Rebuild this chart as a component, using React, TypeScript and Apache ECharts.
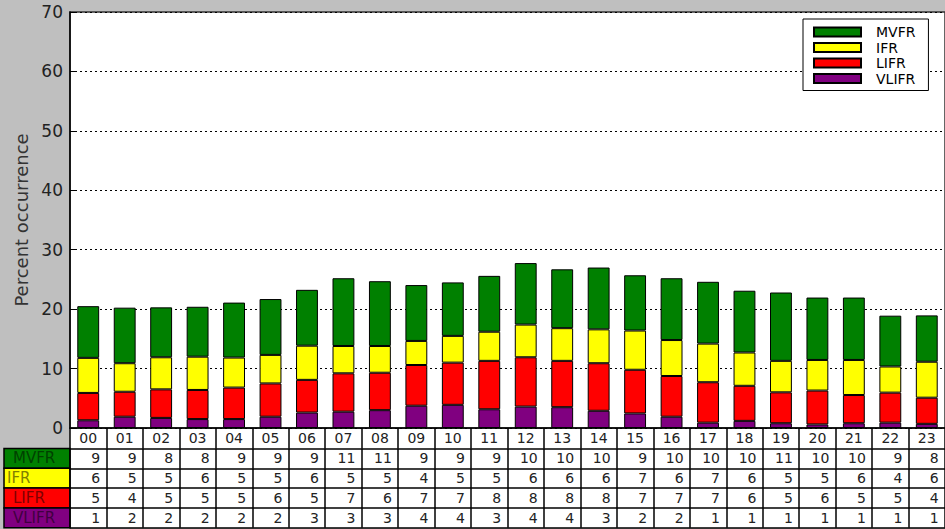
import React, { useEffect, useRef } from "react";
import * as echarts from "echarts";

const hours = ["00","01","02","03","04","05","06","07","08","09","10","11","12","13","14","15","16","17","18","19","20","21","22","23"];
const vlifr = [1.3,1.9,1.7,1.5,1.5,1.9,2.6,2.75,3.0,3.75,3.9,3.15,3.6,3.5,2.9,2.45,1.9,0.9,1.2,0.8,0.6,0.8,0.9,0.7];
const lifr = [4.6,4.2,4.8,4.9,5.3,5.6,5.5,6.45,6.3,6.85,7.1,8.15,8.3,7.8,8.0,7.35,6.85,6.8,5.9,5.2,5.7,4.75,5.05,4.4];
const ifr = [5.9,4.8,5.4,5.6,5.05,4.8,5.75,4.6,4.5,4.05,4.5,4.9,5.5,5.5,5.7,6.6,6.05,6.5,5.6,5.3,5.15,5.9,4.4,6.05];
const mvfr = [8.7,9.35,8.4,8.4,9.25,9.4,9.4,11.4,10.9,9.4,9.0,9.4,10.35,9.9,10.4,9.3,10.4,10.4,10.4,11.5,10.5,10.5,8.55,7.8];

const tableMVFR = [9,9,8,8,9,9,9,11,11,9,9,9,10,10,10,9,10,10,10,11,10,10,9,8];
const tableIFR = [6,5,5,6,5,5,6,5,5,4,5,5,6,6,6,7,6,7,6,5,5,6,4,6];
const tableLIFR = [5,4,5,5,5,6,5,7,6,7,7,8,8,8,8,7,7,7,6,5,6,5,5,4];
const tableVLIFR = [1,2,2,2,2,2,3,3,3,4,4,3,4,4,3,2,2,1,1,1,1,1,1,1];

const rowNames = ["MVFR", "IFR", "LIFR", "VLIFR"];
const rowColors = ["#008000", "#ffff00", "#ff0000", "#800080"];
const rowTextColors = ["#004000", "#808000", "#800000", "#400040"];
const rowLabelX = [13, 7, 13, 13];

export default function App() {
  const ref = useRef<HTMLDivElement>(null);
  useEffect(() => {
    if (!ref.current) return;
    const chart = echarts.init(ref.current, null, { renderer: "svg" });
    const font = "DejaVu Sans";
    const gridLeft = 70, gridTop = 12, gridW = 878, gridH = 416;
    const headerH = 20.5, rowH = 19.8;
    const tableRows = [tableMVFR, tableIFR, tableLIFR, tableVLIFR];
    const lineStyle = { color: "#000", width: 1.5 };

    const xAxes: any[] = [
      {
        type: "category",
        data: hours,
        gridIndex: 0,
        position: "bottom",
        offset: 0,
        axisLine: { show: true, lineStyle },
        axisTick: { show: true, length: headerH, inside: false, lineStyle },
        axisLabel: { fontSize: 14, color: "#222", fontFamily: font, margin: headerH / 2, verticalAlign: "middle", interval: 0 },
        splitLine: { show: false },
      },
    ];
    tableRows.forEach((row, i) => {
      xAxes.push({
        type: "category",
        data: row.map(String),
        gridIndex: 0,
        position: "bottom",
        offset: headerH + i * rowH,
        axisLine: { show: true, lineStyle },
        axisTick: { show: true, length: rowH, inside: false, lineStyle },
        axisLabel: {
          interval: 0,
          margin: rowH / 2,
          verticalAlign: "middle",
          align: "center",
          formatter: (v: string) => `{n|${v}}`,
          rich: { n: { width: 24, align: "right", fontSize: 14, color: "#222", fontFamily: font } },
        },
        splitLine: { show: false },
      });
    });
    xAxes.push({
      type: "category",
      data: hours,
      gridIndex: 0,
      position: "bottom",
      offset: headerH + 4 * rowH,
      axisLine: { show: true, lineStyle },
      axisTick: { show: false },
      axisLabel: { show: false },
      splitLine: { show: false },
    });

    const tableTop = gridTop + gridH;
    const graphics: any[] = [
      {
        type: "rect",
        z: -10,
        shape: { x: gridLeft, y: tableTop, width: gridW, height: headerH + 4 * rowH },
        style: { fill: "#fff" },
      },
    ];
    rowNames.forEach((name, i) => {
      const y = tableTop + headerH + i * rowH;
      graphics.push({
        type: "rect",
        shape: { x: 4, y, width: gridLeft - 4, height: rowH },
        style: { fill: rowColors[i], stroke: "#000", lineWidth: 1.5 },
      });
      graphics.push({
        type: "text",
        x: rowLabelX[i],
        y: y + rowH / 2,
        style: { text: name, fill: rowTextColors[i], fontSize: 15, fontFamily: font, verticalAlign: "middle", align: "left" },
      });
    });

    const mk = (name: string, data: number[], color: string) => ({
      name,
      type: "bar",
      stack: "total",
      xAxisIndex: 0,
      barWidth: "60%",
      data,
      itemStyle: { color, borderColor: "#000", borderWidth: 1 },
    });

    chart.setOption({
      animation: false,
      backgroundColor: "#bfbfbf",
      textStyle: { fontFamily: font },
      grid: {
        left: gridLeft, top: gridTop, width: gridW, height: gridH,
        show: true, backgroundColor: "#fff", borderColor: "#333", borderWidth: 1.5,
      },
      legend: {
        data: ["MVFR", "IFR", "LIFR", "VLIFR"],
        orient: "vertical",
        left: 803,
        top: 19,
        icon: "rect",
        itemWidth: 47,
        itemHeight: 9,
        itemGap: 1.5,
        padding: [6, 13, 5, 10],
        backgroundColor: "#fff",
        borderColor: "#000",
        borderWidth: 1,
        textStyle: { fontSize: 14, color: "#000", fontFamily: font, lineHeight: 14, padding: [0, 0, 0, 10] },
      },
      xAxis: xAxes,
      yAxis: {
        type: "value",
        min: 0,
        max: 70,
        interval: 10,
        name: "Percent occurrence",
        nameLocation: "middle",
        nameGap: 36,
        nameTextStyle: { fontSize: 18, color: "#333", fontFamily: font },
        axisLine: { show: true, lineStyle: { color: "#000", width: 1.5 } },
        axisTick: { show: true, inside: true, length: 6, lineStyle: { color: "#000" } },
        axisLabel: { fontSize: 17, color: "#222", fontFamily: font, margin: 7 },
        splitLine: { show: true, lineStyle: { color: "#000", type: [2, 3], width: 1 } },
      },
      graphic: graphics,
      series: [
        mk("VLIFR", vlifr, "#800080"),
        mk("LIFR", lifr, "#ff0000"),
        mk("IFR", ifr, "#ffff00"),
        mk("MVFR", mvfr, "#008000"),
      ],
    });
    return () => chart.dispose();
  }, []);
  return (
    <div
      ref={ref}
      style={{ position: "fixed", left: 0, top: 0, width: 945, height: 529, background: "#bfbfbf" }}
    />
  );
}
